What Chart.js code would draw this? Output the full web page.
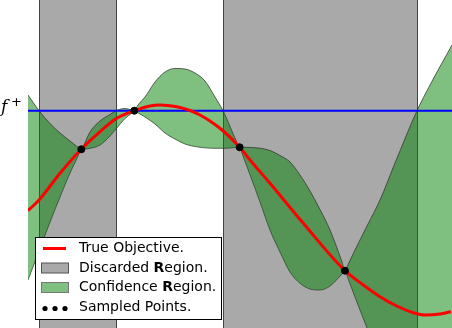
<!DOCTYPE html>
<html>
<head>
<meta charset="utf-8">
<script src="https://cdn.jsdelivr.net/npm/chart.js@4/dist/chart.umd.min.js"></script>
<style>
  body { margin: 0; background: #fff; }
</style>
</head>
<body>
<canvas id="bayesOpt" width="452" height="328"></canvas>
<script>
// x positions shared by the confidence bounds
const gridX = [0, 11, 22, 32, 42, 50, 53.3, 57, 62, 72, 82, 88, 97, 103, 106.3, 110, 117, 127, 137, 147,
  157, 167, 177, 187, 195, 202, 208, 211.7, 215, 222, 232, 242, 252, 262, 272, 282, 292, 302, 314,
  317, 320, 327, 339, 352, 367, 389, 402, 424];
const upperBound = [233, 217.3, 204.5, 195, 187, 180.8, 178.7, 185.5, 196, 207, 213.5, 217.3, 219.5, 218.2, 217.3, 223, 231, 246, 256, 259.5,
  259, 255, 247, 231, 217.3, 201.5, 187.5, 180.7, 180.7, 180.6, 179.8, 177.5, 172.5, 166, 153, 137, 118.5, 98, 66,
  57.3, 63.3, 78, 102, 128, 165, 217.3, 243, 283];
const lowerBound = [48, 77, 106, 131, 155, 171.8, 178.7, 179, 179.7, 183, 192, 199, 209.5, 214.3, 217.3, 215.1, 211, 204, 195, 189,
  184, 181.5, 180.2, 179.7, 179.7, 180, 180.4, 180.7, 172, 153.4, 126, 98, 76, 56, 44.7, 39, 38, 42, 54,
  57.3, 49.5, 31, 0, -34, -74, -132, -167, -227];

const trueX = [0, 11, 32, 53.3, 72, 88.7, 106.3, 122, 132, 142, 152, 162, 172, 182, 195.3, 211.7, 222, 242, 275.3, 317,
  335.3, 352, 368.7, 385.3, 397, 412, 423];
const trueY = [117.3, 128, 154.7, 178.7, 196.3, 209.7, 217.3, 222, 223, 222.2, 220.5, 217.5, 213, 207, 197, 180.7, 168, 144.7, 104.7, 57.3,
  43, 31.3, 22, 15.3, 13, 14, 16.3];

const sampleX = [53.3, 106.3, 211.7, 317];
const sampleY = [178.7, 217.3, 180.7, 57.3];

const fPlus = 217.3;
const discarded = [[11, 88], [195, 389]];

const legendLabels = [
  ["True Objective."],
  ["Discarded ", "R", "egion."],
  ["Confidence ", "R", "egion."],
  ["Sampled Points."]
];

const pts = (xs, ys) => xs.map((x, i) => ({ x: x, y: ys[i] }));

const regionsPlugin = {
  id: "regions",
  beforeDatasetsDraw(chart) {
    const { ctx, chartArea, scales } = chart;
    ctx.save();
    discarded.forEach(([a, b]) => {
      const x0 = Math.round(scales.x.getPixelForValue(a)) + 0.5;
      const x1 = Math.round(scales.x.getPixelForValue(b)) + 0.5;
      ctx.fillStyle = "#a9a9a9";
      ctx.fillRect(x0, chartArea.top, x1 - x0, chartArea.bottom - chartArea.top);
      ctx.strokeStyle = "#444";
      ctx.lineWidth = 1;
      ctx.beginPath();
      ctx.moveTo(x0, chartArea.top); ctx.lineTo(x0, chartArea.bottom);
      ctx.moveTo(x1, chartArea.top); ctx.lineTo(x1, chartArea.bottom);
      ctx.stroke();
    });
    ctx.restore();
  }
};

const overlayPlugin = {
  id: "overlay",
  afterDraw(chart) {
    const { ctx, scales } = chart;
    ctx.save();
    // f+ label
    const yf = scales.y.getPixelForValue(fPlus);
    ctx.fillStyle = "#000";
    ctx.textBaseline = "alphabetic";
    ctx.font = "italic 17px 'DejaVu Serif'";
    ctx.fillText("f", 1, yf + 1);
    ctx.font = "13px 'DejaVu Sans'";
    ctx.fillText("+", 11, yf - 5);

    // legend
    const bx = 35.5, by = 237.5, bw = 186, bh = 82;
    ctx.fillStyle = "#fff";
    ctx.fillRect(bx, by, bw, bh);
    ctx.strokeStyle = "#000";
    ctx.lineWidth = 1;
    ctx.strokeRect(bx, by, bw, bh);

    const rows = [248.5, 268, 287.5, 307.5];
    ctx.strokeStyle = "red";
    ctx.lineWidth = 3;
    ctx.beginPath();
    ctx.moveTo(43, rows[0]); ctx.lineTo(66, rows[0]);
    ctx.stroke();

    ctx.lineWidth = 1;
    ctx.fillStyle = "#a9a9a9";
    ctx.strokeStyle = "#555";
    ctx.fillRect(41.5, rows[1] - 5, 27, 10);
    ctx.strokeRect(41.5, rows[1] - 5, 27, 10);
    ctx.fillStyle = "rgb(127,191,127)";
    ctx.strokeStyle = "#777";
    ctx.fillRect(41.5, rows[2] - 5, 27, 10);
    ctx.strokeRect(41.5, rows[2] - 5, 27, 10);

    ctx.fillStyle = "#000";
    [45, 55, 65].forEach(x => {
      ctx.beginPath();
      ctx.arc(x, rows[3] + 1, 2.6, 0, Math.PI * 2);
      ctx.fill();
    });

    ctx.textBaseline = "middle";
    legendLabels.forEach((parts, i) => {
      let x = 79;
      parts.forEach(p => {
        ctx.font = (p === "R" ? "bold " : "") + "14px 'DejaVu Sans'";
        ctx.fillText(p, x, rows[i]);
        x += ctx.measureText(p).width;
      });
    });
    ctx.restore();
  }
};

new Chart(document.getElementById("bayesOpt"), {
  type: "line",
  data: {
    datasets: [
      {
        label: "Sampled Points.",
        data: pts(sampleX, sampleY),
        showLine: false,
        pointRadius: 3.5,
        pointBackgroundColor: "#000",
        pointBorderColor: "#000",
        order: 0
      },
      {
        label: "True Objective.",
        data: pts(trueX, trueY),
        borderColor: "red",
        borderWidth: 3,
        pointRadius: 0,
        cubicInterpolationMode: "monotone",
        order: 1
      },
      {
        label: "f+",
        data: [{ x: 0, y: fPlus }, { x: 424, y: fPlus }],
        borderColor: "blue",
        borderWidth: 2,
        pointRadius: 0,
        order: 2
      },
      {
        label: "Confidence Region.",
        data: pts(gridX, upperBound),
        borderColor: "rgba(50,50,50,0.75)",
        borderWidth: 1,
        backgroundColor: "rgba(0,128,0,0.5)",
        fill: "+1",
        pointRadius: 0,
        cubicInterpolationMode: "monotone",
        order: 3
      },
      {
        label: "lower",
        data: pts(gridX, lowerBound),
        borderColor: "rgba(50,50,50,0.75)",
        borderWidth: 1,
        fill: false,
        pointRadius: 0,
        cubicInterpolationMode: "monotone",
        order: 4
      }
    ]
  },
  options: {
    responsive: false,
    animation: false,
    layout: { autoPadding: false, padding: { left: 28, right: 0, top: 0, bottom: 0 } },
    scales: {
      x: { type: "linear", min: 0, max: 424, display: false },
      y: { type: "linear", min: 0, max: 328, display: false }
    },
    plugins: {
      legend: { display: false },
      tooltip: { enabled: false }
    }
  },
  plugins: [regionsPlugin, overlayPlugin]
});
</script>
</body>
</html>
